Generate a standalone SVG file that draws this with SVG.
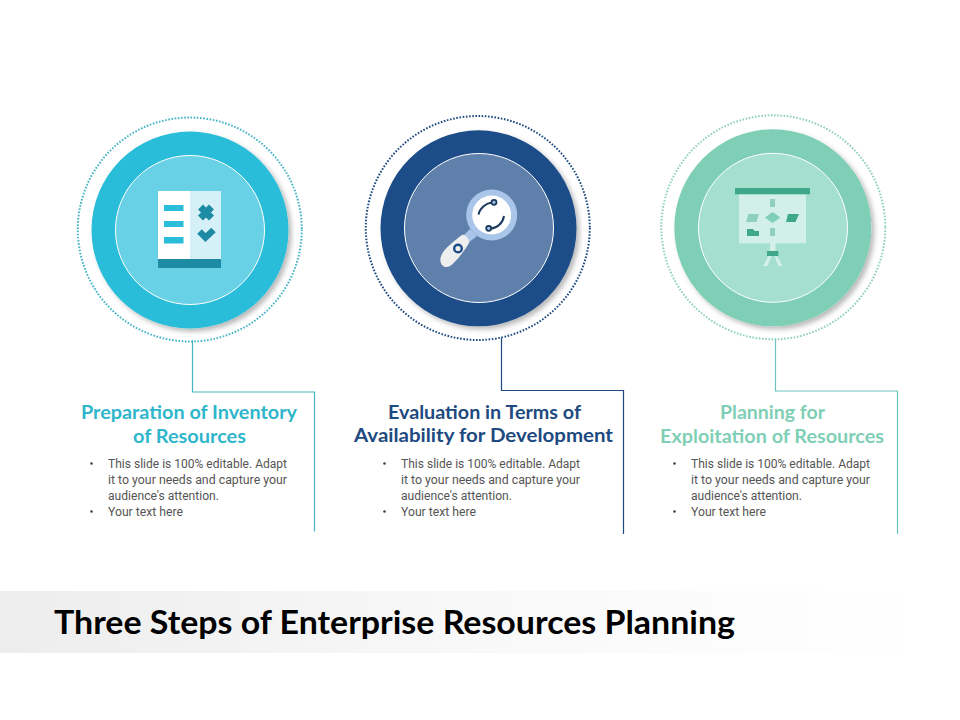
<svg xmlns="http://www.w3.org/2000/svg" width="960" height="720" viewBox="0 0 960 720">
<style>
.h{font-family:"Lato","Liberation Sans",sans-serif;font-weight:700;font-size:19px;text-anchor:middle}
.b{font-family:"Roboto","Liberation Sans",sans-serif;font-size:12.500px;fill:#555}
.t{font-family:"Lato","Liberation Sans",sans-serif;font-weight:700;font-size:32px;fill:#000}
.ring{fill:none;stroke-width:2;stroke-dasharray:1.6 1.6}
.in{stroke:#fff;stroke-width:1}
.c{fill:none;stroke-width:1.200}
</style>
<defs>
<linearGradient id="band" x1="0" x2="1" y1="0" y2="0"><stop offset="0" stop-color="#ededed"/><stop offset=".5" stop-color="#f8f8f8"/><stop offset="1" stop-color="#fff"/></linearGradient>
<filter id="sh" x="-20%" y="-20%" width="140%" height="140%"><feDropShadow dx="3" dy="3" stdDeviation="2.500" flood-color="#000" flood-opacity=".28"/></filter>
</defs>
<rect x="0" y="591" width="915" height="62" fill="url(#band)"/>
<text id="title" class="t" x="54" y="634" textLength="681" lengthAdjust="spacingAndGlyphs">Three Steps of Enterprise Resources Planning</text>
<g id="connectors">
<path class="c" stroke="#45b4c6" d="M192.500 340V392H314.500V531.500"/>
<path class="c" stroke="#1d4a80" d="M501.500 338V390.500H623.500V534"/>
<path class="c" stroke="#6cc5c0" d="M775.500 338V391H897.500V534"/>
</g>
<g id="node1">
<circle class="ring" cx="189.800" cy="229.500" r="112" stroke="#45b4c6"/>
<circle cx="190" cy="230" r="98.500" fill="#29bdd9" filter="url(#sh)"/>
<circle class="in" cx="190" cy="230" r="74.500" fill="#69d1e5"/>
<rect x="158" y="191" width="32" height="68" fill="#fff"/>
<rect x="190" y="191" width="31" height="68" fill="#d5f0f6"/>
<rect x="158" y="259" width="63" height="9" fill="#1e8ba5"/>
<rect x="164" y="205" width="19.500" height="6" fill="#29bdd9"/>
<rect x="164" y="221" width="19.500" height="6" fill="#29bdd9"/>
<rect x="164" y="237" width="19.500" height="6.500" fill="#29bdd9"/>
<path d="M200.500 207L211.500 218M211.500 207L200.500 218" stroke="#1e8ba5" stroke-width="7" fill="none"/>
<path d="M199.500 231.500L205.500 237.500L213.500 230" stroke="#1e8ba5" stroke-width="6.500" fill="none"/>
</g>
<g id="node2">
<circle class="ring" cx="477.800" cy="228" r="112" stroke="#1d4a80"/>
<circle cx="478.500" cy="228.300" r="98" fill="#1d4d89" filter="url(#sh)"/>
<circle class="in" cx="479" cy="228" r="74.500" fill="#6080ac"/>
<path d="M470 229L477 236L462 248L456 243Z" fill="#a9c5ea"/>
<path d="M441.500 255C444 249 455 240 462 235C465 233 470 240 469 243C465 250 456 262 450 266C443 270 438 262 441.500 255Z" fill="#eeeeee"/>
<circle cx="458" cy="248.500" r="3.800" fill="none" stroke="#1d4d89" stroke-width="2.400"/>
<circle cx="491.700" cy="215" r="25.500" fill="#a9c5ea"/>
<circle cx="491.700" cy="215" r="19.500" fill="#fff"/>
<path d="M478.500 214.500C480 208 486 203 492 202.500M504 216C503 223 497 228 491 228.500" fill="none" stroke="#1b3a5e" stroke-width="2"/>
<circle cx="494" cy="202.300" r="2.500" fill="#a9c5ea" stroke="#1b3a5e" stroke-width="1.800"/>
<circle cx="488.700" cy="228.300" r="2.500" fill="#a9c5ea" stroke="#1b3a5e" stroke-width="1.800"/>
</g>
<g id="node3">
<circle class="ring" cx="773.300" cy="227.300" r="112" stroke="#8fd0c0"/>
<circle cx="772.800" cy="227.800" r="98.500" fill="#7fcfb6" filter="url(#sh)"/>
<circle class="in" cx="773" cy="227.800" r="74.500" fill="#a5e0cf"/>
<path d="M770 243H775.500V251H770ZM763 266L768.500 256H771.500L767.500 266ZM782.500 266L777 256H774.500L778.500 266Z" fill="#d3f0e8"/>
<rect x="739" y="194" width="67" height="49.300" fill="#d3f0e8"/>
<rect x="735" y="188" width="75" height="6.300" fill="#3fa88a"/>
<rect x="767" y="251" width="11.300" height="5" fill="#3fa88a"/>
<rect x="770" y="199" width="5" height="8" fill="#8fd0bc"/>
<rect x="770" y="228" width="5" height="8" fill="#8fd0bc"/>
<path d="M772.500 212L780.500 217.500L772.500 223L765 217.500Z" fill="#7fcfb6"/>
<path d="M748.500 214H759L756.500 222H746Z" fill="#8fd0bc"/>
<path d="M788 214H799L795.500 222H786Z" fill="#3fa88a"/>
<path d="M747 229H753L754.500 231H759V236H747Z" fill="#3fa88a"/>
</g>
<g id="text1">
<text class="h" fill="#2fb6cc" x="189" y="419" textLength="216" lengthAdjust="spacingAndGlyphs">Preparation of Inventory</text>
<text class="h" fill="#2fb6cc" x="189.500" y="443" textLength="113" lengthAdjust="spacingAndGlyphs">of Resources</text>
<circle cx="91.500" cy="463.500" r="1.300" fill="#444"/><circle cx="91.500" cy="511.500" r="1.300" fill="#444"/>
<text class="b" x="108" y="468" textLength="179" lengthAdjust="spacingAndGlyphs">This slide is 100% editable. Adapt</text>
<text class="b" x="108" y="484" textLength="179" lengthAdjust="spacingAndGlyphs">it to your needs and capture your</text>
<text class="b" x="108" y="500" textLength="111" lengthAdjust="spacingAndGlyphs">audience's attention.</text>
<text class="b" x="108" y="516" textLength="75" lengthAdjust="spacingAndGlyphs">Your text here</text>
</g>
<g id="text2">
<text class="h" fill="#1d4a80" x="484.500" y="419" textLength="193" lengthAdjust="spacingAndGlyphs">Evaluation in Terms of</text>
<text class="h" fill="#1d4a80" x="483.500" y="442" textLength="259" lengthAdjust="spacingAndGlyphs">Availability for Development</text>
<circle cx="384.500" cy="463.500" r="1.300" fill="#444"/><circle cx="384.500" cy="511.500" r="1.300" fill="#444"/>
<text class="b" x="401" y="468" textLength="179" lengthAdjust="spacingAndGlyphs">This slide is 100% editable. Adapt</text>
<text class="b" x="401" y="484" textLength="179" lengthAdjust="spacingAndGlyphs">it to your needs and capture your</text>
<text class="b" x="401" y="500" textLength="111" lengthAdjust="spacingAndGlyphs">audience's attention.</text>
<text class="b" x="401" y="516" textLength="75" lengthAdjust="spacingAndGlyphs">Your text here</text>
</g>
<g id="text3">
<text class="h" fill="#7fcfb6" x="772.500" y="419" textLength="105" lengthAdjust="spacingAndGlyphs">Planning for</text>
<text class="h" fill="#7fcfb6" x="772" y="443" textLength="224" lengthAdjust="spacingAndGlyphs">Exploitation of Resources</text>
<circle cx="674.500" cy="463.500" r="1.300" fill="#444"/><circle cx="674.500" cy="511.500" r="1.300" fill="#444"/>
<text class="b" x="691" y="468" textLength="179" lengthAdjust="spacingAndGlyphs">This slide is 100% editable. Adapt</text>
<text class="b" x="691" y="484" textLength="179" lengthAdjust="spacingAndGlyphs">it to your needs and capture your</text>
<text class="b" x="691" y="500" textLength="111" lengthAdjust="spacingAndGlyphs">audience's attention.</text>
<text class="b" x="691" y="516" textLength="75" lengthAdjust="spacingAndGlyphs">Your text here</text>
</g>
</svg>
